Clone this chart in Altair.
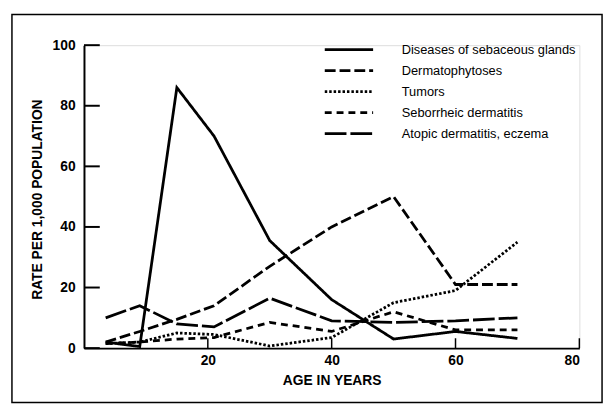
import altair as alt
import pandas as pd

# ---- data ----
ages = [3.5, 9, 15, 21, 30, 40, 50, 60, 70]
series_names = [
    "Diseases of sebaceous glands",
    "Dermatophytoses",
    "Tumors",
    "Seborrheic dermatitis",
    "Atopic dermatitis, eczema",
]
sebaceous = [2, 0.5, 86, 70, 35.5, 16, 3, 5.5, 3.2]
dermatophytoses = [2, 5.5, 9.5, 14, 27, 40, 50, 21, 21]
tumors = [1.5, 2, 5, 4.5, 0.7, 3.5, 15, 19, 35]
seborrheic = [1.5, 2, 3, 3.5, 8.5, 5.5, 12, 6, 6]
atopic = [10, 14, 8, 7, 16.5, 9, 8.5, 9, 10]
y_ticks = [0, 20, 40, 60, 80, 100]
x_ticks = [20, 40, 60, 80]

# ---- styles ----
dashes = [[1, 0], [11, 4], [2.5, 2], [7, 5], [22, 4]]
FONT = "Liberation Sans"
W, H = 502, 307

rows = []
for name, vals in zip(series_names, [sebaceous, dermatophytoses, tumors, seborrheic, atopic]):
    for a, v in zip(ages, vals):
        rows.append({"series": name, "age": a, "rate": v})
df = pd.DataFrame(rows)

x_scale = alt.Scale(domain=[0, 80], nice=False, zero=False)
y_scale = alt.Scale(domain=[0, 100], nice=False)

lines = alt.Chart(df).mark_line(color="black", strokeWidth=2.8).encode(
    x=alt.X("age:Q", scale=x_scale,
            axis=alt.Axis(values=x_ticks, ticks=False, grid=False, domainColor="black",
                          domainWidth=2, labelFont=FONT, labelFontSize=14,
                          labelFontWeight="bold", labelColor="black", labelPadding=6,
                          title="AGE IN YEARS", titleFont=FONT, titleFontSize=14,
                          titleFontWeight="bold", titleColor="black",
                          titleY=33, titleBaseline="middle")),
    y=alt.Y("rate:Q", scale=y_scale,
            axis=alt.Axis(values=y_ticks, ticks=False, grid=False, domainColor="black",
                          domainWidth=2, labelFont=FONT, labelFontSize=14,
                          labelFontWeight="bold", labelColor="black", labelPadding=9,
                          title="RATE PER 1,000 POPULATION", titleFont=FONT,
                          titleFontSize=14, titleFontWeight="bold", titleColor="black",
                          titleAngle=-90, titleX=-47, titleY=156,
                          titleAlign="center", titleBaseline="middle")),
    strokeDash=alt.StrokeDash("series:N",
                              scale=alt.Scale(domain=series_names, range=dashes),
                              legend=None),
    detail="series:N",
)

ytick_df = pd.DataFrame({"v": y_ticks})
yticks = alt.Chart(ytick_df).mark_rule(color="black", strokeWidth=2).encode(
    y=alt.Y("v:Q", scale=y_scale), x=alt.value(0), x2=alt.value(16)
)
xtick_df = pd.DataFrame({"v": x_ticks})
xticks = alt.Chart(xtick_df).mark_rule(color="black", strokeWidth=1.5).encode(
    x=alt.X("v:Q", scale=x_scale), y=alt.value(H), y2=alt.value(H - 10)
)

frame = alt.Chart(pd.DataFrame({"a": [0]})).mark_rect(
    filled=False, stroke="black", strokeWidth=1.5
).encode(x=alt.value(-73), x2=alt.value(525), y=alt.value(-31), y2=alt.value(362))

legend_layers = []
for i, name in enumerate(series_names):
    ly = 4.5 + 21.3 * i
    d = pd.DataFrame({"name": [name]})
    legend_layers.append(
        alt.Chart(d).mark_rule(color="black", strokeWidth=2.8, strokeDash=dashes[i]).encode(
            x=alt.value(244), x2=alt.value(293), y=alt.value(ly)
        )
    )
    legend_layers.append(
        alt.Chart(d).mark_text(align="left", baseline="middle", font=FONT,
                               fontSize=13, color="black").encode(
            text="name:N", x=alt.value(322), y=alt.value(ly)
        )
    )

chart = alt.layer(frame, lines, yticks, xticks, *legend_layers).properties(
    width=W, height=H,
    padding={"left": 77, "top": 35, "right": 27, "bottom": 57},
    autosize=alt.AutoSizeParams(type="none"),
).configure_view(stroke=None).configure(background="white")

chart.save("out.html", embed_options={"renderer": "svg", "actions": False})
